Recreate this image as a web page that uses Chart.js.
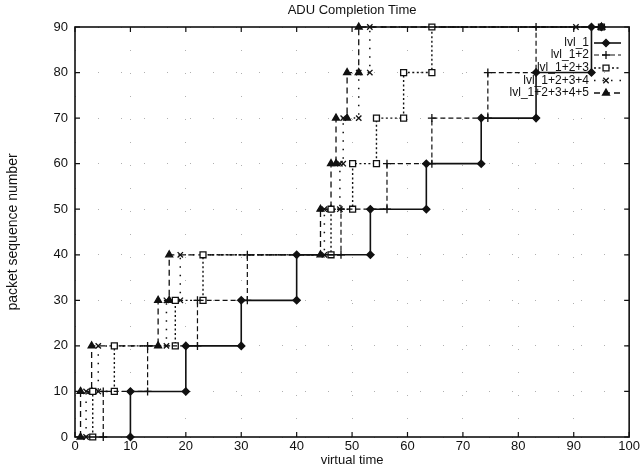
<!DOCTYPE html>
<html><head><meta charset="utf-8">
<script src="https://cdn.jsdelivr.net/npm/chart.js@4"></script>
<style>html,body{margin:0;padding:0;background:#fff}#wrap{width:642px;height:468px}canvas{display:block}</style>
</head><body>
<div id="wrap"><canvas id="c" width="642" height="468"></canvas></div>
<script>
// ---- data ----
const levels = [0, 10, 20, 30, 40, 50, 60, 70, 80, 90];
const xTicks = [0, 10, 20, 30, 40, 50, 60, 70, 80, 90, 100];
const yTicks = [0, 10, 20, 30, 40, 50, 60, 70, 80, 90];
const seriesNames = ['lvl_1', 'lvl_1+2', 'lvl_1+2+3', 'lvl_1+2+3+4', 'lvl_1+2+3+4+5'];
// time at which each 10-packet step is completed (step 0->10, 10->20, ... 80->90)
const lvl1Times = [10, 20, 30, 40, 53.3, 63.4, 73.3, 83.2, 93.2];
const lvl2Times = [5.1, 13.1, 22.1, 31.1, 48, 56.3, 64.4, 74.5, 83.2];
const lvl3Times = [3.2, 7.1, 18.1, 23.1, 46.2, 50.1, 54.4, 59.3, 64.4];
const lvl4Times = [2, 4.2, 16.5, 19, 45, 47.8, 48.4, 51.2, 53.2];
const lvl5Times = [1, 3, 15, 17, 44.3, 46.2, 47.1, 49.1, 51.2];
// extra points on the last level (90)
const lvl1Tail = [95];
const lvl2Tail = [95];
const lvl3Tail = [95];
const lvl4Tail = [90.4, 95];
const lvl5Tail = [95];
const chartTitle = 'ADU Completion Time';
const xTitle = 'virtual time';
const yTitle = 'packet sequence number';

function stepPoints(times, tail) {
  const pts = [];
  for (let k = 0; k < times.length; k++) {
    pts.push({x: times[k], y: levels[k]});
    pts.push({x: times[k], y: levels[k + 1]});
  }
  const top = levels[levels.length - 1];
  tail.forEach(t => pts.push({x: t, y: top}));
  return pts;
}

const INK = '#111';
const styles = [
  {dash: [], style: 'rectRot', r: 3.6, fill: INK, bw: 1.6},
  {dash: [5, 3], style: 'cross', r: 4, fill: INK, bw: 1.2},
  {dash: [2, 2.5], style: 'rect', r: 4.2, fill: '#fff', bw: 1.4},
  {dash: [1.5, 7], style: 'crossRot', r: 3.8, fill: INK, bw: 1.5},
  {dash: [6, 4], style: 'triangle', r: 4, fill: INK, bw: 1.3}
];
const allTimes = [lvl1Times, lvl2Times, lvl3Times, lvl4Times, lvl5Times];
const allTails = [lvl1Tail, lvl2Tail, lvl3Tail, lvl4Tail, lvl5Tail];

const datasets = seriesNames.map((name, i) => ({
  label: name,
  data: stepPoints(allTimes[i], allTails[i]),
  showLine: true,
  tension: 0,
  borderColor: INK,
  borderWidth: styles[i].bw,
  borderDash: styles[i].dash,
  pointStyle: styles[i].style,
  pointRadius: styles[i].r,
  pointBorderWidth: 1.3,
  pointBorderColor: INK,
  pointBackgroundColor: styles[i].fill,
  clip: false
}));

const FONT = "'Liberation Sans', Arial, sans-serif";

const framePlugin = {
  id: 'frame',
  afterDatasetsDraw(chart) {
    const {ctx, chartArea: a} = chart;
    const xs = chart.scales.x, ys = chart.scales.y;
    ctx.save();
    ctx.strokeStyle = INK;
    ctx.lineWidth = 1.6;
    ctx.setLineDash([]);
    ctx.strokeRect(a.left, a.top, a.right - a.left, a.bottom - a.top);
    ctx.lineWidth = 1.2;
    const tl = 5;
    ctx.beginPath();
    xTicks.forEach(v => {
      const px = xs.getPixelForValue(v);
      ctx.moveTo(px, a.bottom); ctx.lineTo(px, a.bottom - tl);
      ctx.moveTo(px, a.top); ctx.lineTo(px, a.top + tl);
    });
    yTicks.forEach(v => {
      const py = ys.getPixelForValue(v);
      ctx.moveTo(a.left, py); ctx.lineTo(a.left + tl, py);
      ctx.moveTo(a.right, py); ctx.lineTo(a.right - tl, py);
    });
    ctx.stroke();
    ctx.restore();
  },
  afterDraw(chart) {
    const {ctx, chartArea: a} = chart;
    ctx.save();
    ctx.fillStyle = INK;
    ctx.font = '13px ' + FONT;
    ctx.textAlign = 'center';
    ctx.textBaseline = 'middle';
    ctx.fillText(chartTitle, (a.left + a.right) / 2, 10);
    ctx.fillText(xTitle, (a.left + a.right) / 2, 460);
    ctx.save();
    ctx.font = '14px ' + FONT;
    ctx.translate(13, (a.top + a.bottom) / 2);
    ctx.rotate(-Math.PI / 2);
    ctx.fillText(yTitle, 0, 0);
    ctx.restore();
    // legend (gnuplot style: text right-aligned, then line sample)
    const ly = [43, 55, 68, 80.5, 93];
    ctx.font = '12px ' + FONT;
    ctx.textAlign = 'right';
    chart.data.datasets.forEach((ds, i) => {
      const y = ly[i];
      ctx.fillStyle = INK;
      ctx.fillText(ds.label, 589, y);
      ctx.strokeStyle = INK;
      ctx.lineWidth = ds.borderWidth;
      ctx.setLineDash(ds.borderDash);
      ctx.beginPath();
      ctx.moveTo(594, y); ctx.lineTo(621, y);
      ctx.stroke();
      ctx.setLineDash([]);
      ctx.fillStyle = ds.pointBackgroundColor;
      ctx.strokeStyle = INK;
      ctx.lineWidth = ds.pointBorderWidth;
      Chart.helpers.drawPoint(ctx, {pointStyle: ds.pointStyle, radius: ds.pointRadius, rotation: 0, borderWidth: ds.pointBorderWidth}, 606, y);
    });
    ctx.restore();
  }
};

new Chart(document.getElementById('c'), {
  type: 'scatter',
  data: {datasets},
  options: {
    responsive: false,
    animation: false,
    devicePixelRatio: 1,
    layout: {padding: {top: 27, right: 12, left: 0, bottom: 0}},
    plugins: {legend: {display: false}, title: {display: false}, tooltip: {enabled: false}},
    scales: {
      x: {
        type: 'linear', min: 0, max: 100,
        afterBuildTicks: s => { s.ticks = xTicks.map(v => ({value: v})); },
        afterFit: s => { s.height = 31; },
        ticks: {color: INK, font: {family: FONT, size: 13}, padding: 2, maxRotation: 0},
        grid: {color: '#b0b0b0', lineWidth: 1, drawTicks: false},
        border: {display: false, dash: [1, 22]}
      },
      y: {
        type: 'linear', min: 0, max: 90,
        afterBuildTicks: s => { s.ticks = yTicks.map(v => ({value: v})); },
        afterFit: s => { s.width = 75; },
        ticks: {color: INK, font: {family: FONT, size: 13}, padding: 7},
        grid: {color: '#b0b0b0', lineWidth: 1, drawTicks: false},
        border: {display: false, dash: [1, 22]}
      }
    }
  },
  plugins: [framePlugin]
});
</script>
</body></html>
